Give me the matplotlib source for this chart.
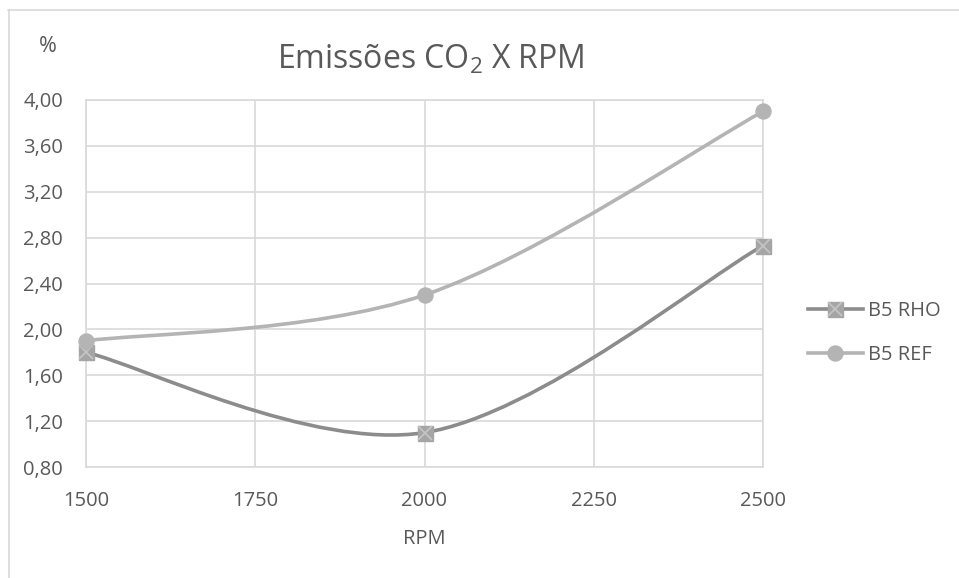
import matplotlib
matplotlib.use("Agg")
import matplotlib.pyplot as plt
from matplotlib.path import Path
from matplotlib.patches import PathPatch
from matplotlib.lines import Line2D
from matplotlib.ticker import FuncFormatter

plt.rcParams['font.family'] = ['Open Sans', 'DejaVu Sans']
plt.rcParams['mathtext.fontset'] = 'custom'
plt.rcParams['mathtext.rm'] = 'Open Sans'

# Data
rpm = [1500, 2000, 2500]
b5_rho = [1.80, 1.10, 2.73]
b5_ref = [1.90, 2.30, 3.90]
series_names = ["B5 RHO", "B5 REF"]
x_ticks = [1500, 1750, 2000, 2250, 2500]
y_ticks = [0.80, 1.20, 1.60, 2.00, 2.40, 2.80, 3.20, 3.60, 4.00]

TEXT = "#595959"
GRID = "#d9d9d9"
RHO_LINE = "#8c8c8c"
RHO_FILL = "#a5a5a5"
RHO_X = "#c4c4c4"
REF_LINE = "#b4b4b4"
FS = 14.5
LW = 2.6
MS = 10.8


def smooth_path(xs, ys):
    """Cubic Bezier path through the points (Catmull-Rom style smoothing)."""
    pts = list(zip(xs, ys))
    n = len(pts)
    verts = [pts[0]]
    codes = [Path.MOVETO]
    for i in range(n - 1):
        p_prev = pts[i - 1] if i > 0 else pts[i]
        p0 = pts[i]
        p1 = pts[i + 1]
        p_next = pts[i + 2] if i + 2 < n else pts[i + 1]
        c1 = (p0[0] + (p1[0] - p_prev[0]) / 6.0, p0[1] + (p1[1] - p_prev[1]) / 6.0)
        c2 = (p1[0] - (p_next[0] - p0[0]) / 6.0, p1[1] - (p_next[1] - p0[1]) / 6.0)
        verts += [c1, c2, p1]
        codes += [Path.CURVE4] * 3
    return Path(verts, codes)


fig = plt.figure(figsize=(9.59, 5.78), dpi=100)
ax = fig.add_axes([86 / 959, 1 - 467 / 578, (763 - 86) / 959, (467 - 100) / 578])

ax.set_xlim(1500, 2500)
ax.set_ylim(0.80, 4.00)
ax.set_xticks(x_ticks)
ax.set_yticks(y_ticks)
ax.yaxis.set_major_formatter(FuncFormatter(lambda v, p: f"{v:.2f}".replace(".", ",")))
ax.grid(True, color=GRID, linewidth=1.2)
ax.set_axisbelow(True)
for s in ax.spines.values():
    s.set_color(GRID)
    s.set_linewidth(1.2)
ax.tick_params(length=0, labelsize=FS, colors=TEXT)
ax.tick_params(axis='y', pad=16.5)
ax.tick_params(axis='x', pad=17)

# B5 RHO: smoothed line with square-and-cross markers
ax.add_patch(PathPatch(smooth_path(rpm, b5_rho), facecolor='none',
                       edgecolor=RHO_LINE, linewidth=LW, capstyle='round', zorder=3))
ax.plot(rpm, b5_rho, ls='none', marker='s', markersize=MS, color=RHO_FILL,
        markeredgecolor=RHO_FILL, clip_on=False, zorder=4)
ax.plot(rpm, b5_rho, ls='none', marker='x', markersize=MS - 1, markeredgewidth=1.3,
        color=RHO_X, clip_on=False, zorder=5)

# B5 REF: smoothed line with circle markers
ax.add_patch(PathPatch(smooth_path(rpm, b5_ref), facecolor='none',
                       edgecolor=REF_LINE, linewidth=LW, capstyle='round', zorder=6))
ax.plot(rpm, b5_ref, ls='none', marker='o', markersize=MS, color=REF_LINE,
        clip_on=False, zorder=7)

ax.set_xlabel("RPM", fontsize=FS, color=TEXT, labelpad=13)

# Title and unit label
fig.text(431 / 959, 1 - 60 / 578, r"Emissões CO$_\mathregular{2}$ X RPM", fontsize=23,
         color=TEXT, ha='center', va='center')
fig.text(48 / 959, 1 - 47 / 578, "%", fontsize=15.5, color=TEXT, ha='center', va='center')

# Legend
h_rho = (Line2D([], [], color=RHO_LINE, lw=LW, marker='s', markersize=MS,
                markerfacecolor=RHO_FILL, markeredgecolor=RHO_FILL),
         Line2D([], [], ls='none', marker='x', markersize=MS - 1, markeredgewidth=1.3,
                color=RHO_X))
h_ref = Line2D([], [], color=REF_LINE, lw=LW, marker='o', markersize=MS)
leg = fig.legend([h_rho, h_ref], series_names, loc='center left',
                 bbox_to_anchor=(808 / 959, 1 - 333 / 578), frameon=False,
                 fontsize=FS, labelcolor=TEXT, handlelength=2.73, handletextpad=0.25,
                 labelspacing=1.2, borderpad=0, borderaxespad=0)

# Chart area border (top and left edges)
fig.add_artist(Line2D([8 / 959, 1], [1 - 10 / 578, 1 - 10 / 578], color=GRID, lw=1.2,
                      transform=fig.transFigure))
fig.add_artist(Line2D([9 / 959, 9 / 959], [0, 1 - 10 / 578], color=GRID, lw=1.2,
                      transform=fig.transFigure))

fig.savefig("out.png", dpi=100)
